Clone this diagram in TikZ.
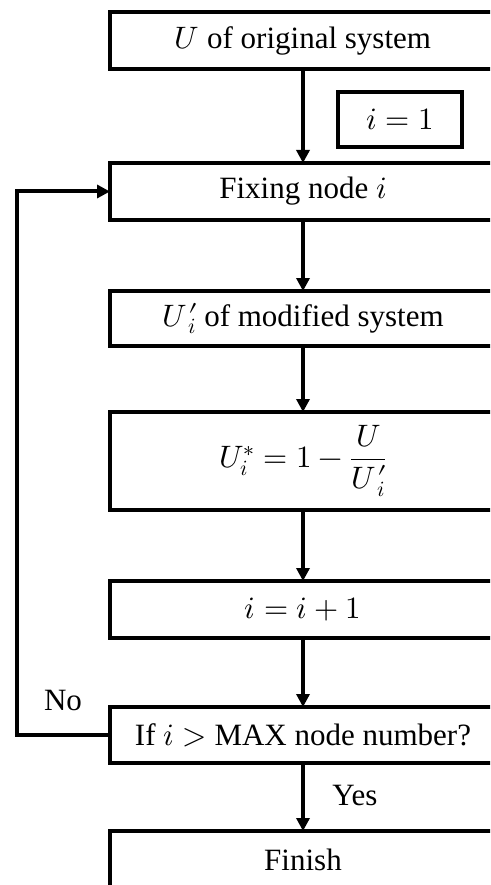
\documentclass[tikz,border=0pt]{standalone}
\usepackage{amsmath}
\usepackage{fontspec}
\usepackage{unicode-math}
\setmainfont{Liberation Serif}
\setmathfont{Latin Modern Math}
\usetikzlibrary{arrows.meta,positioning}
\newcommand{\Umod}{U\mkern1mu\rlap{$\prime$}_i}
\tikzset{
  flow/.style={-{Triangle[length=13pt,width=13pt]},line width=4pt,draw=black},
  box/.style={draw=black,line width=4pt,minimum width=386pt,minimum height=57pt,
              inner sep=0pt,outer sep=0pt,align=center,font=\fontsize{31}{36}\selectfont},
  tag/.style={font=\fontsize{31}{36}\selectfont,inner sep=0pt},
}

\begin{document}
\begin{tikzpicture}[x=1pt,y=1pt]
    \useasboundingbox (0,0) rectangle (490,-885);
    \clip (0,0) rectangle (490,-885);
    \node[box,anchor=north west] (orig) at (110,-12) {$U$ of original system};
    \node[box,below=94pt of orig] (fix) {Fixing node $i$};
    \node[box,minimum height=55pt,below=71pt of fix] (modif) {$\Umod$ of modified system};
    \node[box,minimum height=98pt,below=66pt of modif] (ratio)
      {$U_i^{*}=1-\dfrac{U}{\Umod}$};
    \node[box,below=71pt of ratio] (incr) {$i=i+1$};
    \node[box,minimum height=56pt,below=69pt of incr] (check) {If $i>$ MAX node number?};
    \node[box,below=68pt of check] (finish) {Finish};
    \node[box,minimum width=124pt,minimum height=55pt] (init) at (400,-119.5) {$i=1$};
    \node[tag] (no) at (63,-700) {No};
    \node[tag] (yes) at (355,-795) {Yes};
    \draw[flow] (orig) -- (fix);
    \draw[flow] (fix) -- (modif);
    \draw[flow] (modif) -- (ratio);
    \draw[flow] (ratio) -- (incr);
    \draw[flow] (incr) -- (check);
    \draw[flow] (check) -- (finish);
    \draw[flow] (check.west) -- ++(-93,0) |- (fix.west);
  \end{tikzpicture}
\end{document}
